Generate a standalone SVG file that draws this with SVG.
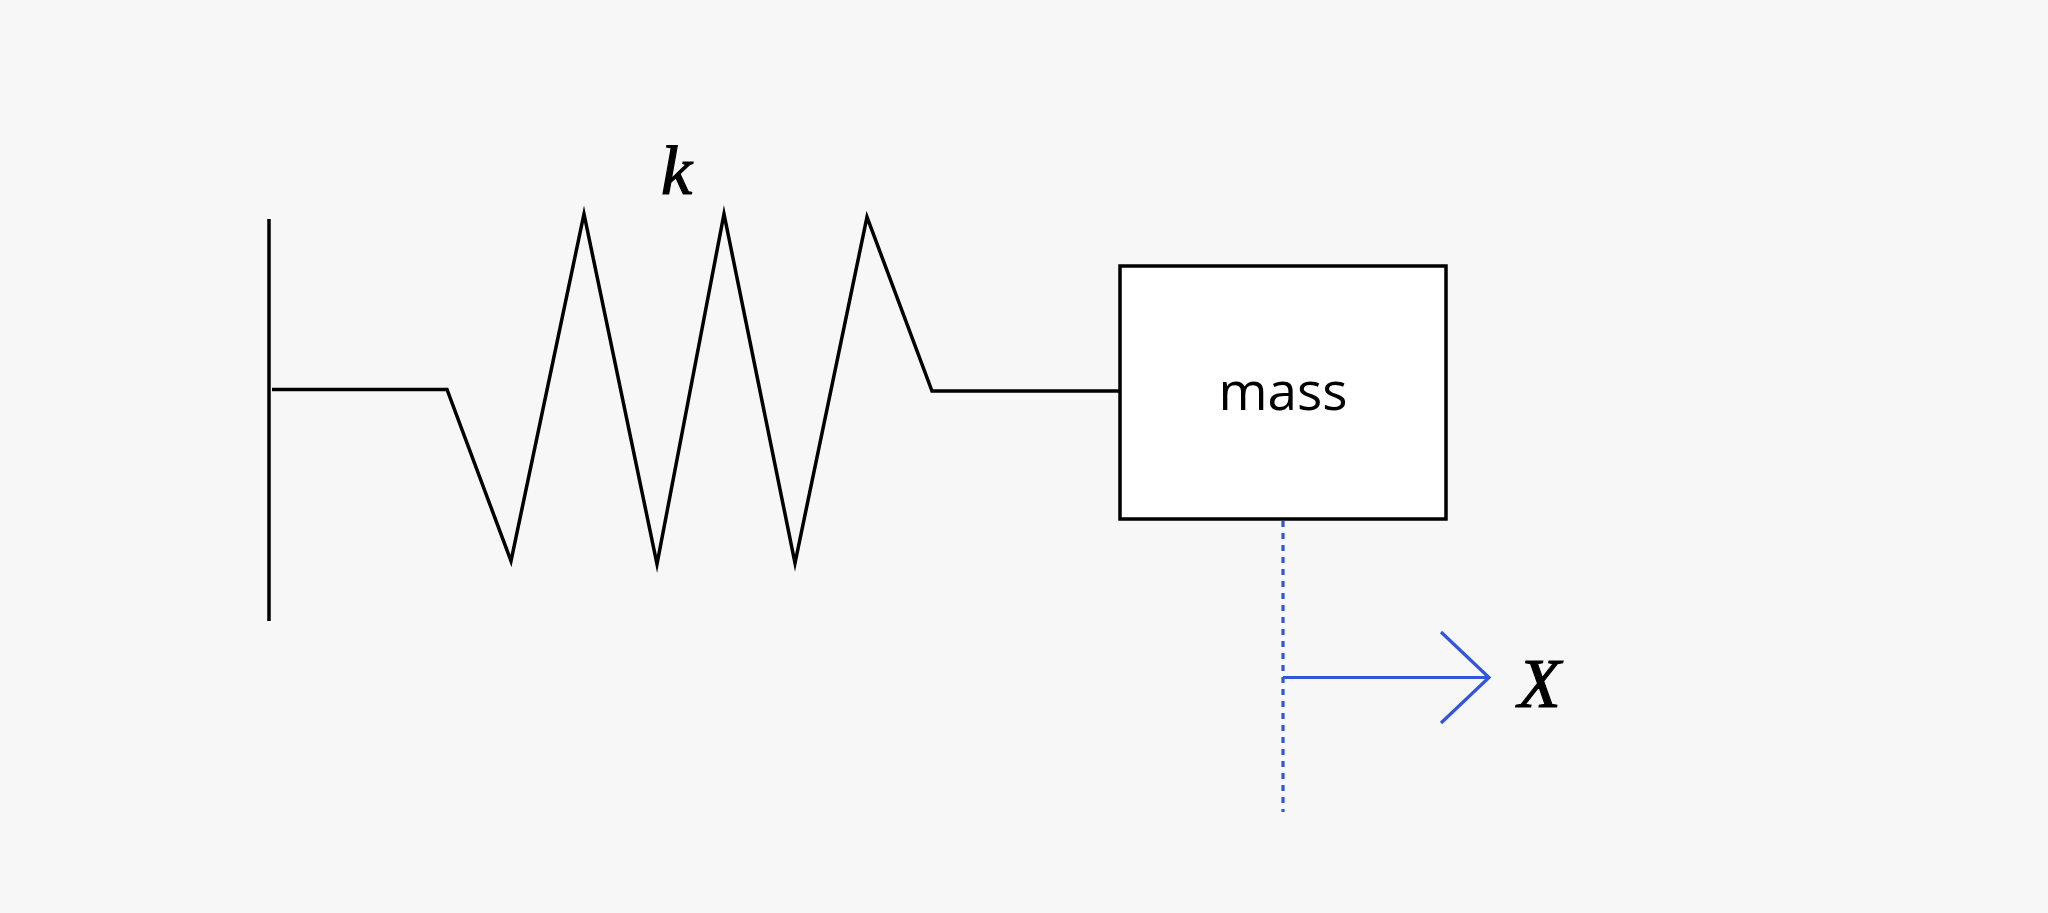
<svg xmlns="http://www.w3.org/2000/svg" width="2048" height="913" viewBox="0 0 2048 913">
<style>
.ink{fill:none;stroke:#000;stroke-width:3.5;stroke-miterlimit:10}
.blue{fill:none;stroke:#3355dd;stroke-width:3.2}
.math{font-family:"Liberation Serif","DejaVu Serif",serif;font-style:italic;fill:#000;stroke:#000;stroke-width:1.2}
.lbl{font-family:"Open Sans","Noto Sans",sans-serif;font-size:53px;font-weight:400;fill:#000}
</style>
<rect width="2048" height="913" fill="#f7f7f7"/>
<g id="wall">
<line class="ink" x1="269" y1="219" x2="269" y2="621"/>
</g>
<g id="connectors">
<polyline id="spring" class="ink" points="272,389.5 447,389.5 511,561 584,214 657,564 724,214 795,563 867,217 932,391 1120,391"/>
<line id="position-ref" class="blue" x1="1283" y1="521" x2="1283" y2="812" stroke-dasharray="6 6"/>
<g id="x-arrow">
<line class="blue" x1="1283" y1="677.5" x2="1488" y2="677.5"/>
<polyline class="blue" points="1441,632 1489,677.5 1441,723"/>
</g>
</g>
<g id="mass">
<rect x="1120" y="266" width="326" height="253" fill="#fff" stroke="#000" stroke-width="3.5"/>
<text class="lbl" x="1283" y="410" text-anchor="middle">mass</text>
</g>
<g id="label-k">
<text class="math" x="661" y="194" font-size="70">k</text>
</g>
<g id="label-x">
<text class="math" x="1518" y="707" font-size="70">X</text>
</g>
</svg>
